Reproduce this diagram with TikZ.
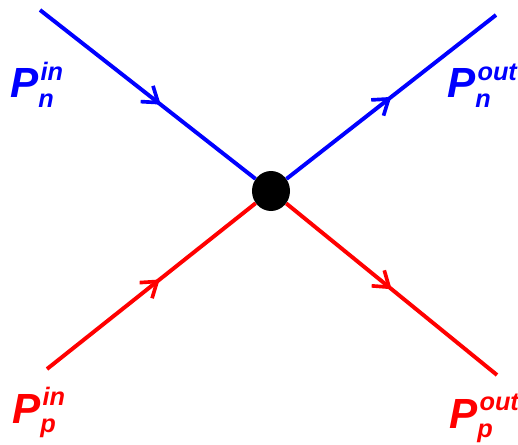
\documentclass[tikz,border=0pt]{standalone}
\usepackage{fontspec}
\setmainfont{Liberation Sans}
\usetikzlibrary{arrows.meta, decorations.markings, shapes.geometric}
\newcommand{\mom}[2]{P\makebox[0pt][l]{\kern1.5pt\raisebox{12.5pt}{\fontsize{18}{20}\selectfont #2}}\raisebox{-6.5pt}{\fontsize{18}{20}\selectfont #1}}
\tikzset{
  flow/.style={line width=2.8pt, postaction={decorate}, decoration={markings,
      mark=at position #1 with {\arrow{Straight Barb[length=3.6mm, width=5mm, line width=2.6pt]}}}},
  lbl/.style={font=\fontsize{30}{36}\selectfont\bfseries\itshape, inner sep=0pt, anchor=base west},
  vertex/.style={ellipse, fill=black, minimum width=0.95cm, minimum height=1cm, inner sep=0pt},
}

\begin{document}
\begin{tikzpicture}[x=0.025cm, y=-0.025cm]
  \useasboundingbox (0,0) rectangle (518,445);
  % vertex and line ends
  \node[vertex] (v) at (271,191) {};
  \coordinate (nin) at (40,10);
  \coordinate (nout) at (496,15);
  \coordinate (pin) at (47,369);
  \coordinate (pout) at (497,375);
  % neutron lines
  \draw[flow=0.56, blue] (nin) -- (v);
  \draw[flow=0.5, blue] (v) -- (nout);
  % proton lines
  \draw[flow=0.54, red] (pin) -- (v);
  \draw[flow=0.5, red] (v) -- (pout);
  % labels
  \node[lbl, blue] (Lnin) at (10,98) {\mom{n}{in}};
  \node[lbl, blue] (Lnout) at (447,98) {\mom{n}{out}};
  \node[lbl, red] (Lpin) at (12,423) {\mom{p}{in}};
  \node[lbl, red] (Lpout) at (449,428) {\mom{p}{out}};
\end{tikzpicture}
\end{document}
